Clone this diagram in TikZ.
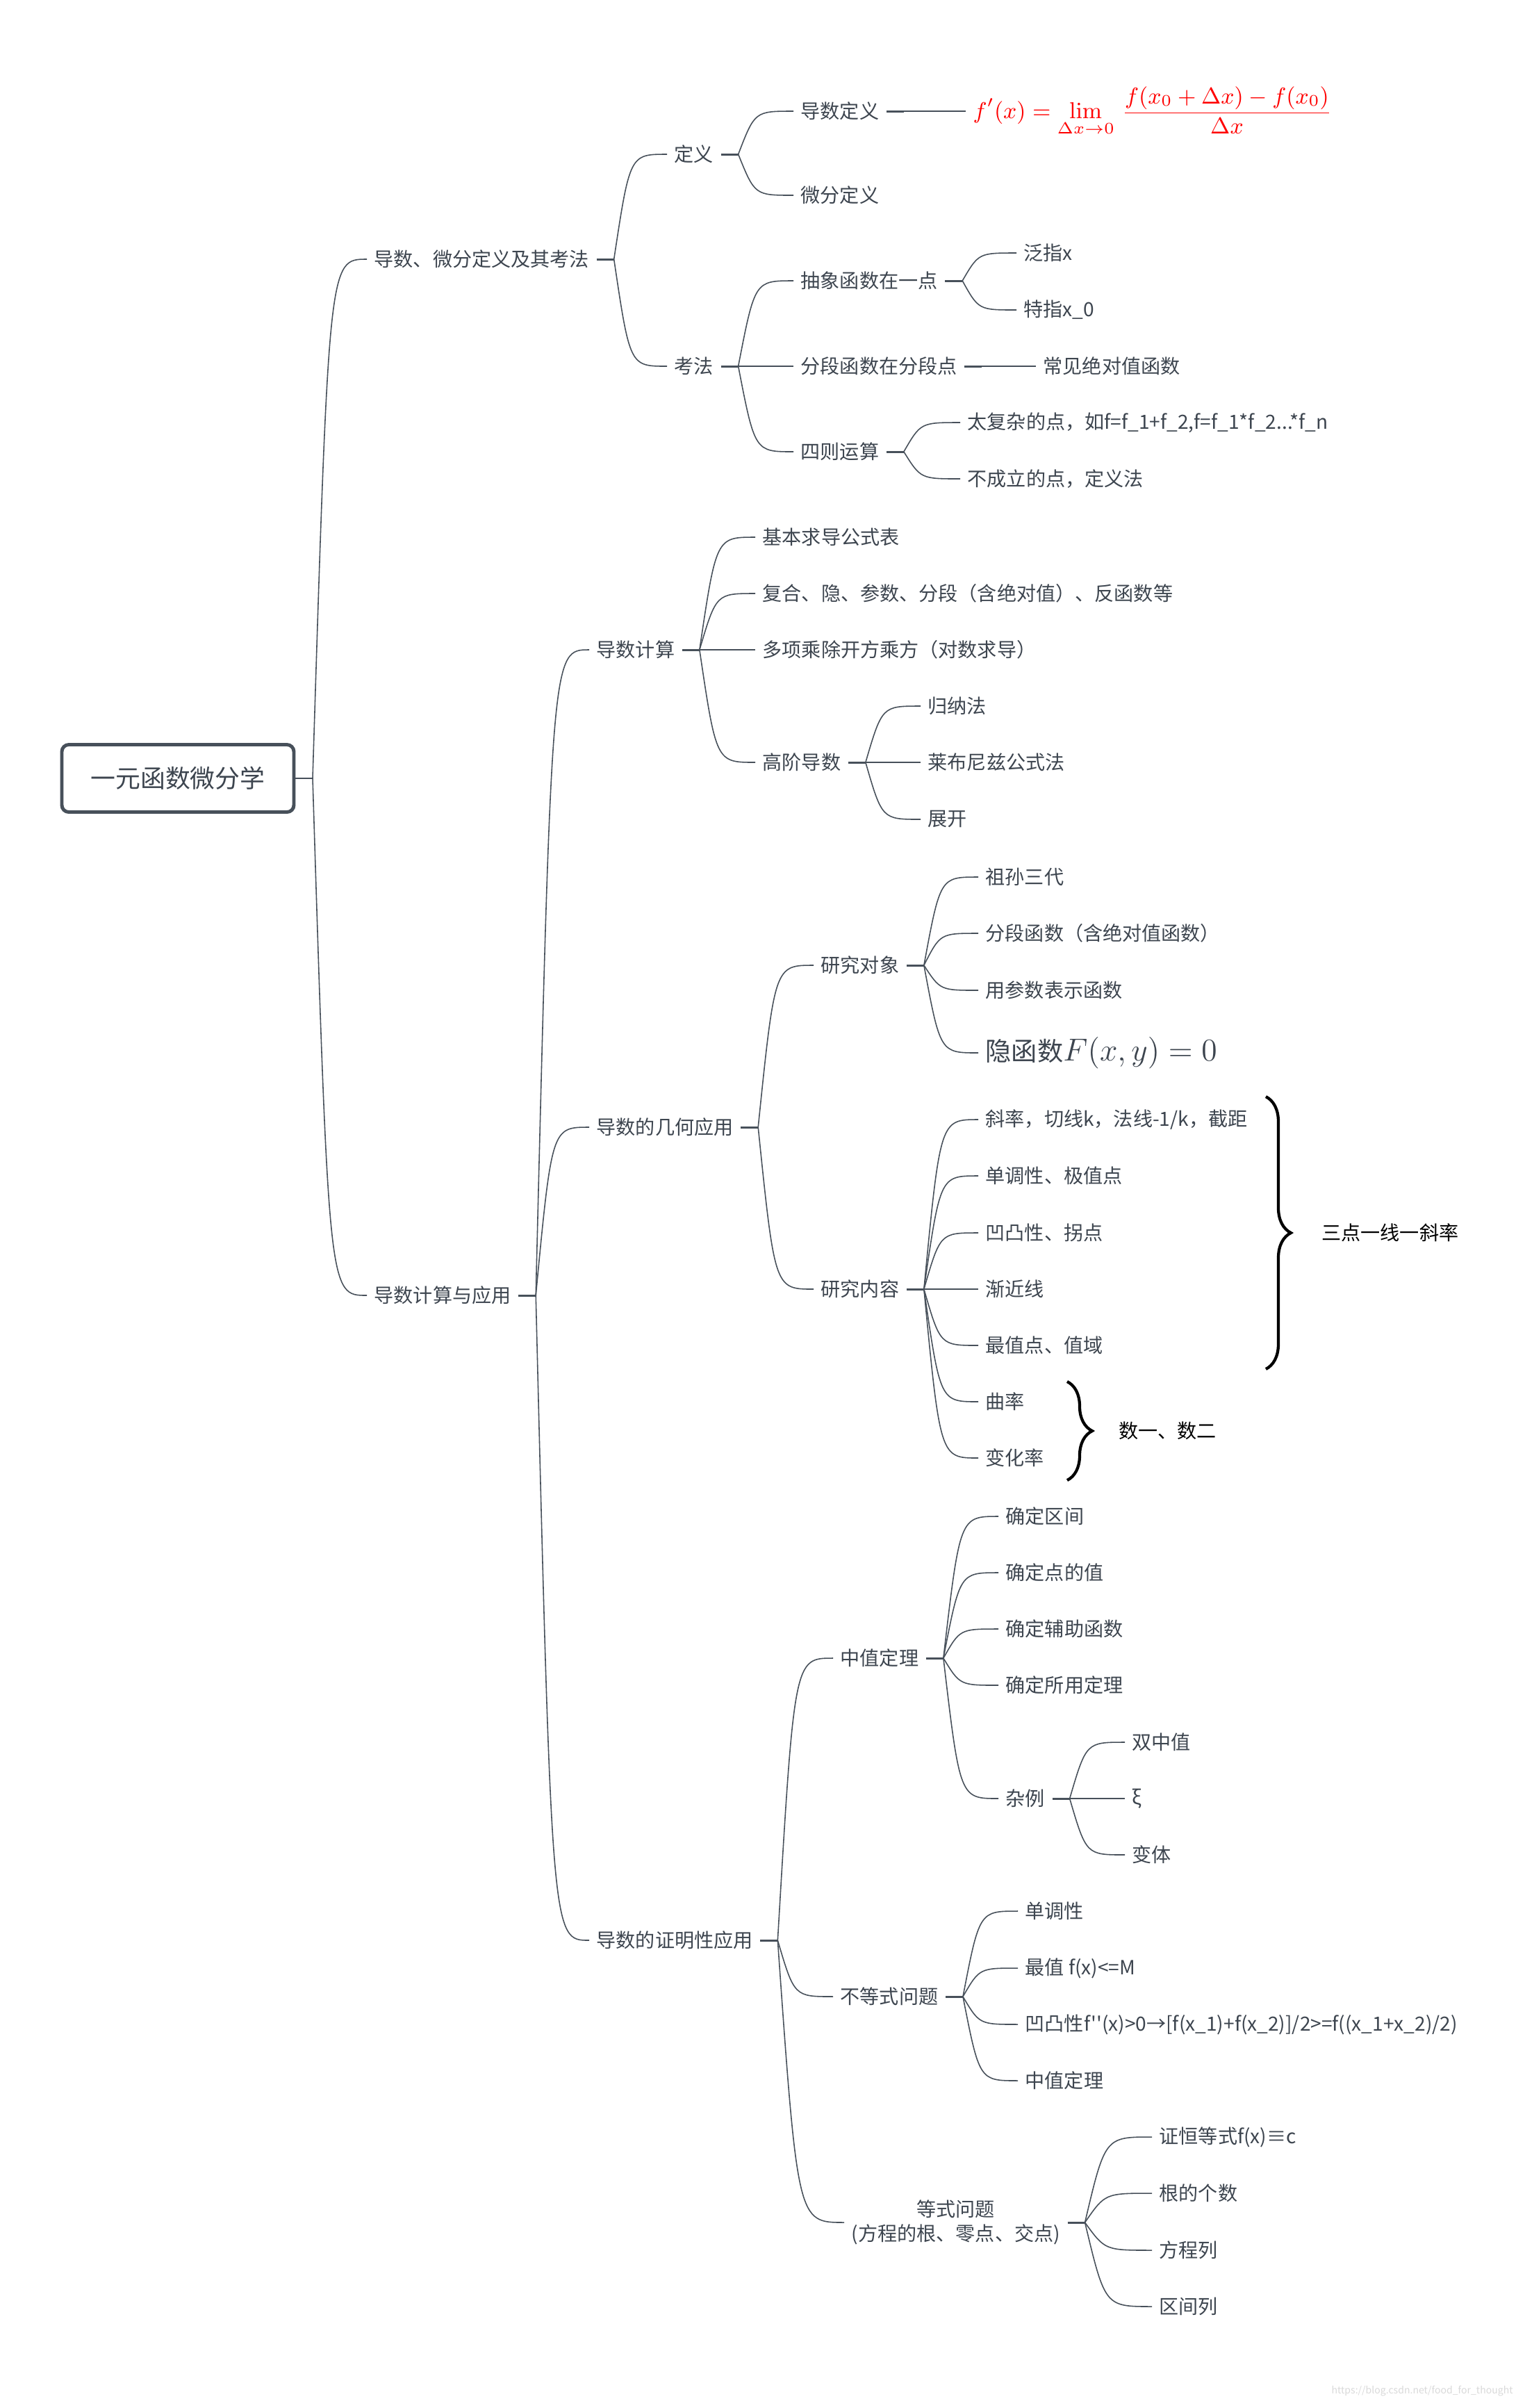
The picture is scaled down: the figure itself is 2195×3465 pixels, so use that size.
\RequirePackage{fix-cm}
\documentclass[tikz,border=0pt]{standalone}
\usepackage[no-math]{fontspec}
\setmainfont{Noto Sans CJK SC}[Ligatures=TeXOff]
\usetikzlibrary{positioning,calc,decorations.pathreplacing}
\definecolor{ink}{HTML}{3D454F}
\definecolor{wire}{HTML}{47505A}
\begin{document}
\begin{tikzpicture}[x=0.1mm,y=-0.1mm,
    every node/.style={text=ink,font=\fontsize{8}{10}\selectfont},
    topic/.style={anchor=west,inner xsep=1mm,inner ysep=0.4mm},
    rootbox/.style={draw=wire,line width=1.4pt,rounded corners=1mm,
      minimum width=33.4mm,minimum height=9.7mm,font=\fontsize{10.2}{12}\selectfont},
    link/.style={draw=wire,line width=0.45pt},
    stub/.style={draw=wire,line width=0.85pt},
    curly/.style={draw=black,line width=1.2pt,decorate,
      decoration={brace,amplitude=3.6mm}},
    note/.style={anchor=west,text=black}]
      % Junction right of a topic
      \newcommand\fork[1]{
        \coordinate[right=2.5mm of #1] (#1j);
        \draw[stub] (#1.east) -- (#1j);
      }
      % Branch from a junction to a child
      \newcommand\twig[2]{
        \path ($(#1j)!0.3!(#2.west)$) coordinate (k);
        \draw[link] (#1j) .. controls (k |- #2.west) .. (#2.west);
      }
      \useasboundingbox (0,0) rectangle (2195,3465);

      % Root
      \node[rootbox] (yuan) at (256,1120) {一元函数微分学};
      \coordinate (yuanj) at (450,1120);
      \draw[link] (yuan.east) -- (yuanj);

      % Main topics
      \node[topic] (defn) at (528,373) {导数、微分定义及其考法};
      \node[topic] (appl) at (528,1864) {导数计算与应用};

      % Definitions and how they are tested
      \node[topic] (dy) at (960,222) {定义};
      \node[topic] (kf) at (960,527) {考法};
      \node[topic] (dsdy) at (1142,160) {导数定义};
      \node[topic] (wfdy) at (1142,281) {微分定义};
      \node[topic,text=red,font=\fontsize{9.4}{12}\selectfont] (lim) at (1390,160)
        {$\displaystyle f'(x)=\lim_{\Delta x\to0}\,\frac{f(x_0+\Delta x)-f(x_0)}{\Delta x}$};
      \node[topic] (chx) at (1142,404) {抽象函数在一点};
      \node[topic] (fdd) at (1142,527) {分段函数在分段点};
      \node[topic] (sz) at (1142,650) {四则运算};
      \node[topic] (fanzhi) at (1463,364) {泛指x};
      \node[topic] (tezhi) at (1463,446) {特指x\_0};
      \node[topic] (jdz) at (1491,527) {常见绝对值函数};
      \node[topic] (fuza) at (1382,608) {太复杂的点，如f=f\_1+f\_2,f=f\_1*f\_2...*f\_n};
      \node[topic] (bcl) at (1382,689) {不成立的点，定义法};

      % Computation
      \node[topic] (js) at (848,935) {导数计算};
      \node[topic] (biao) at (1087,773) {基本求导公式表};
      \node[topic] (fuhe) at (1087,854) {复合、隐、参数、分段（含绝对值）、反函数等};
      \node[topic] (duox) at (1087,935) {多项乘除开方乘方（对数求导）};
      \node[topic] (gj) at (1087,1097) {高阶导数};
      \node[topic] (guina) at (1325,1016) {归纳法};
      \node[topic] (lbnz) at (1325,1097) {莱布尼兹公式法};
      \node[topic] (zk) at (1325,1179) {展开};

      % Geometric use
      \node[topic] (jh) at (848,1622) {导数的几何应用};
      \node[topic] (dx) at (1171,1389) {研究对象};
      \node[topic] (nr) at (1171,1855) {研究内容};
      \node[topic] (zusun) at (1408,1262) {祖孙三代};
      \node[topic] (fdhs) at (1408,1343) {分段函数（含绝对值函数）};
      \node[topic] (cs) at (1408,1425) {用参数表示函数};
      \node[topic,font=\fontsize{10.6}{12}\selectfont] (yin) at (1408,1515)
        {隐函数{\fontsize{13}{15}\selectfont$F(x,y)=0$}};
      \node[topic] (xl) at (1408,1611) {斜率，切线k，法线-1/k，截距};
      \node[topic] (dd) at (1408,1692) {单调性、极值点};
      \node[topic] (ao) at (1408,1774) {凹凸性、拐点};
      \node[topic] (jj) at (1408,1855) {渐近线};
      \node[topic] (zz) at (1408,1936) {最值点、值域};
      \node[topic] (ql) at (1408,2017) {曲率};
      \node[topic] (bh) at (1408,2098) {变化率};

      % Proofs
      \node[topic] (zm) at (848,2792) {导数的证明性应用};
      \node[topic] (zzdl) at (1199,2386) {中值定理};
      \node[topic] (bd) at (1199,2873) {不等式问题};
      \node[topic,align=center] (ds) at (1215,3198) {等式问题\\(方程的根、零点、交点)};
      \node[topic] (qj) at (1437,2182) {确定区间};
      \node[topic] (dz) at (1437,2263) {确定点的值};
      \node[topic] (fz) at (1437,2344) {确定辅助函数};
      \node[topic] (sy) at (1437,2425) {确定所用定理};
      \node[topic] (zl) at (1437,2588) {杂例};
      \node[topic] (szz) at (1619,2507) {双中值};
      \node[topic] (xi) at (1619,2588) {ξ};
      \node[topic] (bt) at (1619,2669) {变体};
      \node[topic] (bdd) at (1465,2750) {单调性};
      \node[topic] (bzz) at (1465,2832) {最值 f(x)<=M};
      \node[topic] (bao) at (1465,2913)
        {凹凸性f''(x)>0→[f(x\_1)+f(x\_2)]/2>=f((x\_1+x\_2)/2)};
      \node[topic] (bzd) at (1465,2994) {中值定理};
      \node[topic] (hd) at (1658,3075) {证恒等式f(x)≡c};
      \node[topic] (gs) at (1658,3156) {根的个数};
      \node[topic] (fcl) at (1658,3238) {方程列};
      \node[topic] (qjl) at (1658,3319) {区间列};

      % Junctions and branches
      \foreach \p in {defn,appl,dy,kf,dsdy,chx,fdd,sz,js,gj,jh,dx,nr,zm,zzdl,zl,bd,ds}
        {\fork{\p}}
      \foreach \c in {defn,appl} {\twig{yuan}{\c}}
      \foreach \c in {dy,kf} {\twig{defn}{\c}}
      \foreach \c in {dsdy,wfdy} {\twig{dy}{\c}}
      \twig{dsdy}{lim}
      \foreach \c in {chx,fdd,sz} {\twig{kf}{\c}}
      \foreach \c in {fanzhi,tezhi} {\twig{chx}{\c}}
      \twig{fdd}{jdz}
      \foreach \c in {fuza,bcl} {\twig{sz}{\c}}
      \foreach \c in {js,jh,zm} {\twig{appl}{\c}}
      \foreach \c in {biao,fuhe,duox,gj} {\twig{js}{\c}}
      \foreach \c in {guina,lbnz,zk} {\twig{gj}{\c}}
      \foreach \c in {dx,nr} {\twig{jh}{\c}}
      \foreach \c in {zusun,fdhs,cs,yin} {\twig{dx}{\c}}
      \foreach \c in {xl,dd,ao,jj,zz,ql,bh} {\twig{nr}{\c}}
      \foreach \c in {zzdl,bd,ds} {\twig{zm}{\c}}
      \foreach \c in {qj,dz,fz,sy,zl} {\twig{zzdl}{\c}}
      \foreach \c in {szz,xi,bt} {\twig{zl}{\c}}
      \foreach \c in {bdd,bzz,bao,bzd} {\twig{bd}{\c}}
      \foreach \c in {hd,gs,fcl,qjl} {\twig{ds}{\c}}

      % Braces
      \coordinate (b1t) at (1822,1578);
      \coordinate (b1b) at (1822,1970);
      \draw[curly] (b1t) -- (b1b);
      \node[note] (sandian) at (1890,1774) {三点一线一斜率};
      \coordinate (b2t) at (1536,1988);
      \coordinate (b2b) at (1536,2130);
      \draw[curly] (b2t) -- (b2b);
      \node[note] (shuyi) at (1598,2059) {数一、数二};

      % Watermark
      \node[anchor=south east,text=gray!30,font=\fontsize{4}{5}\selectfont] (mark)
        at (2190,3460) {https://blog.csdn.net/food\_for\_thought};
    \end{tikzpicture}
\end{document}
